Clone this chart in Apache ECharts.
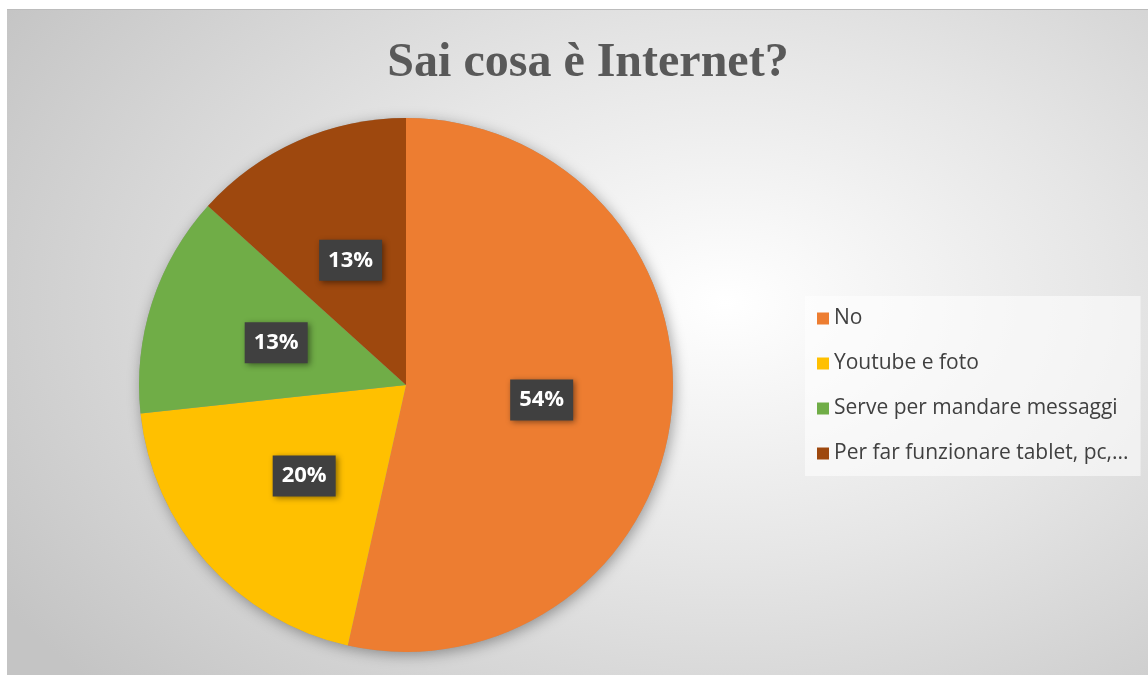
<!DOCTYPE html>
<html>
<head>
<meta charset="utf-8">
<script src="https://cdn.jsdelivr.net/npm/echarts@6/dist/echarts.min.js"></script>
<style>
  html, body { margin: 0; padding: 0; background: #ffffff; width: 1148px; height: 675px; overflow: hidden; }
  #chart {
    position: absolute; left: 7px; top: 9px; width: 1141px; height: 665px;
    border-top: 1px solid #bcbcbc;
    background: radial-gradient(ellipse 75% 85% at 63% 44%, #ffffff 0%, #e6e6e6 45%, #c4c4c4 100%);
  }
</style>
</head>
<body>
<div id="chart"></div>
<script>
const title = 'Sai cosa è Internet?';
const categories = ['No', 'Youtube e foto', 'Serve per mandare messaggi', 'Per far funzionare tablet, pc,...'];
const values = [53.5, 19.8, 13.4, 13.3];
const colors = ['#ED7D31', '#FFC000', '#70AD47', '#9E480E'];

const chart = echarts.init(document.getElementById('chart'), null, { renderer: 'canvas' });
const center = [399, 375];
const radius = 267;

chart.setOption({
  animation: false,
  backgroundColor: 'transparent',
  title: {
    text: title,
    left: 576, top: 25, textAlign: 'center',
    textStyle: { fontFamily: 'Liberation Serif', fontWeight: 'bold', fontSize: 48, color: '#595959' }
  },
  legend: {
    data: categories,
    orient: 'vertical',
    left: 798, top: 286,
    padding: [12, 12, 12, 12],
    backgroundColor: 'rgba(255,255,255,0.55)',
    itemWidth: 12, itemHeight: 12, itemGap: 24,
    icon: 'rect',
    textStyle: { fontFamily: 'Open Sans', fontSize: 21, color: '#404040', lineHeight: 21 }
  },
  series: [
    {
      type: 'pie', silent: true, center: center, radius: radius,
      label: { show: false }, labelLine: { show: false },
      itemStyle: { color: '#999', shadowBlur: 14, shadowColor: 'rgba(0,0,0,0.35)', shadowOffsetX: 2, shadowOffsetY: 3 },
      data: [{ value: 1, name: '__bg' }]
    },
    {
      type: 'pie', center: center, radius: radius, startAngle: 90, clockwise: true,
      data: categories.map((c, i) => ({ name: c, value: values[i], itemStyle: { color: colors[i] } })),
      label: {
        show: true, position: 'inside',
        formatter: p => Math.round(p.value) + '%',
        fontFamily: 'Open Sans', fontWeight: 'bold', fontSize: 22, color: '#ffffff',
        backgroundColor: '#404040',
        padding: [10, 9, 9, 9],
        shadowBlur: 6, shadowColor: 'rgba(0,0,0,0.45)', shadowOffsetX: 2, shadowOffsetY: 2
      },
      labelLine: { show: false },
      itemStyle: { borderWidth: 0 }
    }
  ]
});
</script>
</body>
</html>
